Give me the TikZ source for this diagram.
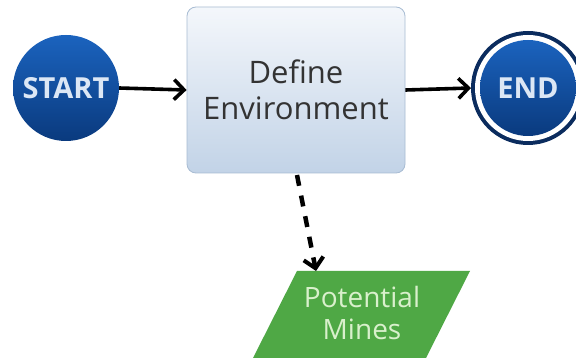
\documentclass[tikz,border=0pt]{standalone}
\usepackage{fontspec}
\setmainfont{Open Sans}
\usetikzlibrary{arrows.meta}
\definecolor{boxtop}{HTML}{F4F7FB}
\definecolor{boxbot}{HTML}{C2D3E7}
\definecolor{boxline}{HTML}{A8BCD3}
\definecolor{bluetop}{HTML}{1B63BE}
\definecolor{bluebot}{HTML}{0A3A7E}
\definecolor{navy}{HTML}{0B2C5E}
\definecolor{lbtext}{HTML}{DCE7F5}
\definecolor{greenfill}{HTML}{4FA845}
\definecolor{greentext}{HTML}{D9F0CC}
\definecolor{graytext}{HTML}{333333}
\tikzset{
  termnode/.style={circle, minimum size=106pt, inner sep=0pt, top color=bluetop, bottom color=bluebot, draw=none,
    text=lbtext, font=\bfseries\fontsize{29}{32}\selectfont},
  procbox/.style={rectangle, rounded corners=9pt, minimum width=218pt, minimum height=166pt, top color=boxtop, bottom color=boxbot,
    draw=boxline, line width=0.8pt, align=center, text=graytext, font=\fontsize{31}{36}\selectfont},
  flow/.style={line width=3.6pt, -{Straight Barb[length=10pt,width=20pt,line width=3.6pt]}},
  dflow/.style={line width=4.5pt, dash pattern=on 11pt off 10pt, -{Straight Barb[length=10pt,width=20pt,line width=4pt]}},
}
\begin{document}
\begin{tikzpicture}[x=1pt,y=-1pt]
\useasboundingbox (0,0) rectangle (576,358);
\fill[white] (0,0) rectangle (576,358);
% start
\node[termnode] (start) at (66,88) {START};
% process
\node[procbox] (def) at (296,90) {Define\\Environment};
% end
\fill[navy] (528,88) circle (57pt);
\fill[white] (528,88) circle (53pt);
\node[termnode, minimum size=96pt] (endc) at (528,88) {END};
\coordinate (endl) at (471,88);
% data
\fill[greenfill] (297,271) -- (470,271) -- (426,358) -- (253,358) -- cycle;
\coordinate (pmtop) at (316,271);
\coordinate (defb) at (297,175);
\node[align=center, text=greentext, font=\fontsize{28}{32}\selectfont] (pm) at (362,313) {Potential\\Mines};
% connectors
\draw[flow] (start.east) -- (def.west);
\draw[flow] (def.east) -- (endl);
\draw[dflow] (defb) -- (pmtop);
\end{tikzpicture}
\end{document}
